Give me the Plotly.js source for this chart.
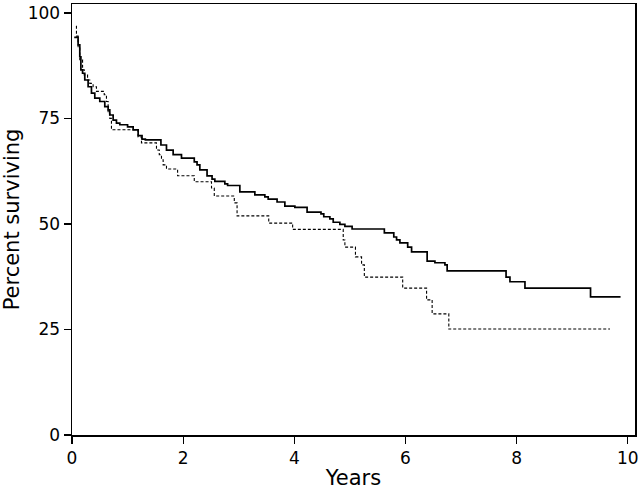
<!DOCTYPE html>
<html>
<head>
<meta charset="utf-8">
<script src="https://cdn.plot.ly/plotly-3.0.1.min.js"></script>
<style>html,body{margin:0;padding:0;background:#fff;}#chart{width:640px;height:490px;}</style>
</head>
<body>
<div id="chart"></div>
<script>
// Group 1 (solid line): step times (years) and percent surviving
const solidYears = [0.04,0.11,0.14,0.16,0.19,0.23,0.29,0.35,0.41,0.50,0.59,0.65,0.68,0.74,0.80,0.86,1.00,1.10,1.19,1.26,1.32,1.60,1.70,1.82,1.97,2.20,2.25,2.30,2.43,2.52,2.57,2.75,2.80,3.02,3.29,3.47,3.53,3.69,3.83,4.01,4.23,4.48,4.53,4.64,4.70,4.82,4.91,5.04,5.62,5.79,5.84,5.90,6.04,6.11,6.39,6.53,6.71,6.75,7.81,7.88,8.15,9.33,9.87];
const solidPct   = [94.2,92.4,89.6,86.5,85.7,84.1,82.5,81.0,79.8,79.0,77.8,77.0,75.8,74.6,73.9,73.5,73.0,72.3,70.9,70.1,69.9,68.7,67.5,66.4,65.6,64.7,64.0,62.8,61.4,60.6,60.1,59.5,59.1,57.6,56.9,56.4,55.9,55.2,54.2,53.9,52.8,52.4,51.7,51.2,50.4,49.9,49.4,48.8,47.9,46.9,46.2,45.5,44.5,43.4,41.2,40.8,40.3,38.9,37.4,36.3,34.8,32.7,32.7];
// Group 2 (dashed line)
const dashYears = [0.07,0.08,0.11,0.14,0.19,0.22,0.28,0.32,0.38,0.44,0.58,0.62,0.65,0.68,0.71,1.19,1.25,1.52,1.57,1.61,1.64,1.70,1.90,2.20,2.51,2.56,2.92,2.97,3.54,3.97,4.88,4.91,5.10,5.21,5.26,5.95,6.38,6.48,6.78,9.68];
const dashPct   = [96.8,94.5,92.0,88.9,86.5,85.3,84.1,83.3,82.5,81.4,80.6,79.0,76.2,75.0,72.3,70.6,69.2,67.5,66.4,65.2,64.0,63.0,61.4,60.0,58.5,56.6,55.0,51.9,50.2,48.7,46.2,44.5,42.2,40.3,37.4,34.8,32.0,28.7,25.1,25.1];

const xTicks = [0,2,4,6,8,10];
const yTicks = [0,25,50,75,100];

const fontFam = '"DejaVu Sans", Verdana, sans-serif';

const traces = [
  {x: solidYears, y: solidPct, mode: 'lines', line: {shape: 'hv', color: '#000', width: 1.7}, hoverinfo: 'skip'},
  {x: dashYears, y: dashPct, mode: 'lines', line: {shape: 'hv', color: '#000', width: 1.1, dash: '3px,2px'}, hoverinfo: 'skip'}
];

const layout = {
  width: 640, height: 490,
  margin: {l: 72, r: 5, t: 4, b: 55},
  paper_bgcolor: '#fff', plot_bgcolor: '#fff',
  showlegend: false,
  font: {family: fontFam, color: '#000', size: 16},
  xaxis: {
    range: [0, 10.13], tickvals: xTicks, ticktext: xTicks.map(String),
    showgrid: false, zeroline: false, showline: true, mirror: true,
    linecolor: '#000', linewidth: 1.5, ticks: 'outside', ticklen: 7, tickwidth: 1.3, tickcolor: '#000',
    tickfont: {size: 17, family: fontFam},
    title: {text: 'Years', font: {size: 21, family: fontFam}, standoff: 4}
  },
  yaxis: {
    range: [0, 102.1], tickvals: yTicks, ticktext: yTicks.map(String),
    showgrid: false, zeroline: false, showline: true, mirror: true,
    linecolor: '#000', linewidth: 1.5, ticks: 'outside', ticklen: 7, tickwidth: 1.3, tickcolor: '#000',
    tickfont: {size: 17, family: fontFam},
    title: {text: 'Percent surviving', font: {size: 21, family: fontFam}, standoff: 8}
  }
};

Plotly.newPlot('chart', traces, layout, {displayModeBar: false, staticPlot: true});
</script>
</body>
</html>
